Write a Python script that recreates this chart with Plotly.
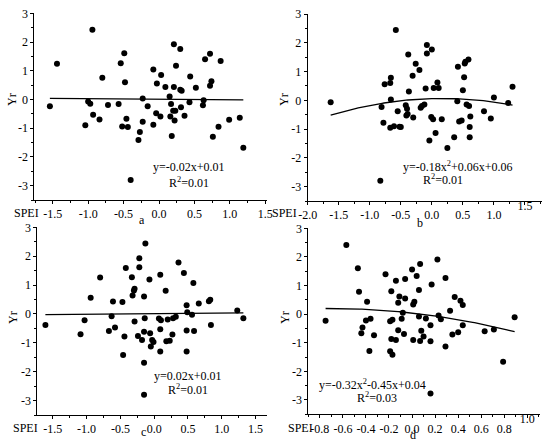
import numpy as np
import plotly.graph_objects as go

# panel a
a_x = [-1.54, -1.44, -0.94, -0.80, -1.00, -0.97, -0.93, -1.04, -0.84, -0.72, -0.57, -0.54, -0.52,
       -0.49, -0.48, -0.46, -0.44, -0.40, -0.27, -0.29, -0.23, -0.23, -0.16, -0.08, -0.08, -0.03,
       -0.04, 0.02, 0.03, 0.09, 0.21, 0.21, 0.15, 0.17, 0.16, 0.18, 0.20, 0.23, 0.22, 0.24, 0.30,
       0.30, 0.32, 0.31, 0.36, 0.44, 0.43, 0.52, 0.62, 0.63, 0.65, 0.72, 0.74, 0.72, 0.76, 0.87,
       0.84, 0.99, 1.14, 1.19]
a_y = [-0.24, 1.24, 2.43, 0.76, -0.07, -0.15, -0.53, -0.90, -0.70, -0.19, -0.16, 1.26, -0.94,
       1.61, 0.60, -0.67, -0.96, -2.80, -1.13, -1.41, 0.03, -0.78, -0.24, 1.04, -0.88, 0.56,
       -0.48, -0.59, 0.85, 0.43, 1.92, 0.43, 0.10, -0.16, -0.59, -1.27, -0.39, -0.39, -0.73, 1.17,
       1.76, 0.34, 0.30, -0.27, -0.57, 0.80, -0.10, 0.41, -0.20, -0.03, 1.40, 1.59, 0.63, 0.48,
       -1.30, 1.34, -0.95, -0.71, -0.64, -1.68]

# panel b
b_x = [-1.63, -0.81, -0.83, -0.78, -0.76, -0.66, -0.67, -0.66, -0.67, -0.61, -0.58, -0.55, -0.52,
       -0.50, -0.38, -0.37, -0.42, -0.40, -0.41, -0.39, -0.31, -0.30, -0.26, -0.20, -0.18, -0.16,
       -0.12, -0.10, -0.08, -0.08, 0.00, -0.04, -0.01, 0.02, 0.03, 0.06, 0.09, 0.11, 0.16, 0.25,
       0.36, 0.42, 0.41, 0.44, 0.48, 0.50, 0.52, 0.53, 0.54, 0.59, 0.56, 0.60, 0.62, 0.61, 0.61,
       0.84, 0.95, 1.00, 1.23, 1.30]
b_y = [-0.07, -0.23, -2.80, -0.78, 0.56, 0.78, 0.60, 0.03, -0.95, -0.90, 2.44, -0.38, -0.92,
       -0.93, 1.59, 0.31, -0.17, -0.29, -0.53, -0.48, 0.85, -0.60, 1.27, 1.05, -0.26, -0.20,
       -0.15, 0.41, 1.63, 1.92, 1.77, -1.40, -0.58, -0.66, 0.43, -1.14, 0.62, 0.43, -0.66, -1.66,
       -1.28, 1.17, -0.03, -0.74, -0.70, 0.35, 0.80, 1.28, 1.34, 1.42, -0.15, -0.20, -0.56, -0.93,
       -1.28, -0.38, -0.63, 0.10, -0.09, 0.47]

# panel c
c_x = [-1.61, -1.09, -1.03, -0.94, -0.80, -0.67, -0.63, -0.61, -0.58, -0.47, -0.46, -0.44, -0.42,
       -0.33, -0.32, -0.30, -0.29, -0.29, -0.24, -0.22, -0.22, -0.18, -0.15, -0.15, -0.14, -0.15,
       -0.15, -0.13, -0.07, -0.06, -0.05, -0.03, -0.01, 0.07, 0.09, 0.09, 0.09, 0.10, 0.17, 0.18,
       0.20, 0.23, 0.27, 0.28, 0.32, 0.36, 0.44, 0.48, 0.49, 0.48, 0.48, 0.56, 0.58, 0.59, 0.66,
       0.81, 0.83, 0.84, 1.23, 1.32]
c_y = [-0.38, -0.70, -0.22, 0.56, 1.26, -0.59, -0.08, 0.43, -0.47, 0.41, -1.42, -0.78, 1.59,
       1.27, 0.64, 0.81, 0.87, -0.26, -0.76, 1.93, 1.62, -0.90, 0.60, -0.62, -0.15, -1.69,
       -2.80, 2.44, 1.19, -0.67, -1.13, -0.90, -0.97, -0.16, 1.36, -1.30, -0.53, -0.22, 0.80, -0.95,
       -0.19, -0.93, -0.71, -0.15, -0.10, 1.78, 1.42, 0.30, 0.06, -0.57, -1.30, -0.03, 1.07, -0.59,
       0.36, 0.44, 0.49, -0.38, 0.12, -0.15]

# panel d
d_x = [-0.75, -0.57, -0.47, -0.46, -0.44, -0.43, -0.39, -0.40, -0.36, -0.37, -0.33, -0.23, -0.19,
       -0.18, -0.18, -0.19, -0.17, -0.17, -0.14, -0.14, -0.12, -0.12, -0.11, -0.09, -0.08, -0.06,
       -0.06, -0.07, 0.00, 0.01, 0.02, 0.01, 0.04, 0.06, 0.06, 0.07, 0.07, 0.08, 0.10, 0.12, 0.16,
       0.16, 0.16, 0.17, 0.22, 0.23, 0.25, 0.29, 0.29, 0.33, 0.35, 0.37, 0.40, 0.42, 0.44, 0.44,
       0.63, 0.71, 0.79, 0.89]
d_y = [-0.23, 2.42, 1.60, 0.78, -0.67, -0.47, 0.43, -0.22, -0.16, -1.29, -0.74, 1.39, -0.25,
       0.80, -0.87, -1.30, -0.20, -1.42, 1.17, -0.90, 0.40, -0.56, 0.62, -0.16, 0.05, 1.23,
       0.55, -0.69, 1.56, 0.34, 0.43, -0.90, 1.33, -0.08, 0.84, 1.75, -0.94, -0.58, -0.78, -0.15,
       -0.39, -0.95, -2.77, 1.04, 1.91, -0.05, -0.18, 1.26, -1.13, 0.12, -0.71, 0.60, -0.63, 0.47,
       0.32, -0.39, -0.60, -0.54, -1.66, -0.11]

# tick values and labels (hyphen minus as in the original)
ac_ticks = [-1.5, -1.0, -0.5, 0.0, 0.5, 1.0, 1.5]
ac_labels = ["-1.5", "-1.0", "-0.5", "0.0", "0.5", "1.0", "1.5"]
b_ticks = [-2.0, -1.5, -1.0, -0.5, 0.0, 0.5, 1.0, 1.5]
b_labels = ["-2.0", "-1.5", "-1.0", "-0.5", "0.0", "0.5", "1.0", "1.5"]
d_ticks = [-0.8, -0.6, -0.4, -0.2, 0.0, 0.2, 0.4, 0.6, 0.8, 1.0]
d_labels = ["-0.8", "-0.6", "-0.4", "-0.2", "0.0", "0.2", "0.4", "0.6", "0.8", "1.0"]
y_ticks = [-3, -2, -1, 0, 1, 2, 3]
y_labels = ["-3", "-2", "-1", "0", "1", "2", "3"]
Y_MIN, Y_MAX = -3.5, 3.0

# fitted curves: (a2, a1, a0) for y = a2*x^2 + a1*x + a0
fits = [(0, -0.02, 0.01), (-0.18, 0.06, 0.06), (0, 0.02, 0.01), (-0.32, -0.45, 0.04)]
eq_text = ["y=-0.02x+0.01", "y=-0.18x<sup>2</sup>+0.06x+0.06",
           "y=0.02x+0.01", "y=-0.32x<sup>2</sup>-0.45x+0.04"]
r2_text = ["R<sup>2</sup>=0.01", "R<sup>2</sup>=0.01", "R<sup>2</sup>=0.01", "R<sup>2</sup>=0.03"]
labels = ["a", "b", "c", "d"]

W, H = 550, 445
FONT = "Liberation Serif"

def px(x):
    return x / W

def py(y):
    return 1 - y / H

panels = [
    dict(x0=34.3, x1=266.7, yt=13.3, yb=200.0, xr=[-1.76, 1.52], tv=ac_ticks, tt=ac_labels, mdt=0.25,
         eq=(189, 167), r2=(189, 183), lab=(142, 220), spei=(26, 213), yr=(12, 100)),
    dict(x0=307.7, x1=541.7, yt=14.0, yb=201.0, xr=[-2.0, 1.77], tv=b_ticks, tt=b_labels, mdt=0.25,
         eq=(458, 166), r2=(443, 179), lab=(420, 223), spei=(284, 213), yr=(284, 100)),
    dict(x0=37.3, x1=267.0, yt=227.3, yb=415.0, xr=[-1.73, 1.67], tv=ac_ticks, tt=ac_labels, mdt=0.25,
         eq=(188, 376), r2=(188, 389), lab=(143, 432), spei=(25, 428), yr=(13, 318)),
    dict(x0=308.3, x1=540.0, yt=228.3, yb=414.3, xr=[-0.9, 1.11], tv=d_ticks, tt=d_labels, mdt=0.1,
         eq=(372, 384), r2=(377, 397), lab=(413, 435), spei=(300, 428), yr=(285, 318)),
]

xs = [a_x, b_x, c_x, d_x]
ys = [a_y, b_y, c_y, d_y]

fig = go.Figure()
annotations = []
for i, p in enumerate(panels):
    n = "" if i == 0 else str(i + 1)
    f = dict(family=FONT, size=12, color="black")
    fig.add_trace(go.Scatter(x=xs[i], y=ys[i], mode="markers", xaxis="x" + n, yaxis="y" + n,
                             marker=dict(color="black", size=6), showlegend=False))
    c2, c1, c0 = fits[i]
    lx = np.linspace(min(xs[i]), max(xs[i]), 100)
    fig.add_trace(go.Scatter(x=lx, y=c2 * lx ** 2 + c1 * lx + c0, mode="lines",
                             xaxis="x" + n, yaxis="y" + n,
                             line=dict(color="black", width=1.3), showlegend=False))
    # plotly drops the last tick label of the right-hand panels, so it is drawn
    # as text hanging under the axis line at that tick instead
    tt = list(p["tt"])
    if i in (1, 3):
        fig.add_trace(go.Scatter(x=[p["tv"][-1]], y=[Y_MIN], mode="text", text=[tt[-1]],
                                 textposition="bottom center", textfont=f, cliponaxis=False,
                                 xaxis="x" + n, yaxis="y" + n, showlegend=False,
                                 hoverinfo="skip"))
        tt[-1] = ""
    ax = dict(domain=[px(p["x0"]), px(p["x1"])], range=p["xr"],
              tickmode="array", tickvals=p["tv"], ticktext=tt, ticklabeloverflow="allow",
              showline=True, linecolor="black", linewidth=1, showgrid=False,
              zeroline=False, ticks="outside", ticklen=3, tickcolor="black", tickangle=0,
              automargin=False, tickfont=f,
              minor=dict(ticks="outside", ticklen=2, dtick=p["mdt"], tick0=0, tickcolor="black"),
              anchor="y" + n)
    ay = dict(domain=[py(p["yb"]), py(p["yt"])], range=[Y_MIN, Y_MAX],
              tickmode="array", tickvals=y_ticks, ticktext=y_labels, ticklabeloverflow="allow",
              showline=True, linecolor="black", linewidth=1, showgrid=False,
              zeroline=False, ticks="outside", ticklen=3, tickcolor="black", automargin=False,
              tickfont=f,
              minor=dict(ticks="outside", ticklen=2, dtick=0.5, tick0=0, tickcolor="black"),
              anchor="x" + n)
    fig.update_layout({"xaxis" + n: ax, "yaxis" + n: ay})
    for txt, pos in [(eq_text[i], p["eq"]), (r2_text[i], p["r2"]), (labels[i], p["lab"]),
                     ("SPEI", p["spei"])]:
        annotations.append(dict(text=txt, x=px(pos[0]), y=py(pos[1]), xref="paper", yref="paper",
                                showarrow=False, font=f, xanchor="center", yanchor="middle"))
    annotations.append(dict(text="Yr", x=px(p["yr"][0]), y=py(p["yr"][1]), xref="paper",
                            yref="paper", showarrow=False, font=f, textangle=-90,
                            xanchor="center", yanchor="middle"))

fig.update_layout(width=W, height=H, margin=dict(l=0, r=0, t=0, b=0),
                  paper_bgcolor="white", plot_bgcolor="white", annotations=annotations)

# drop the default page margin so the figure sits at the window's top-left corner
post = """
document.body.style.margin='0';
document.body.style.overflow='hidden';
Plotly.relayout('{plot_id}', {width: 550});
"""

fig.write_html("out.html", config={"displayModeBar": False}, post_script=post)
